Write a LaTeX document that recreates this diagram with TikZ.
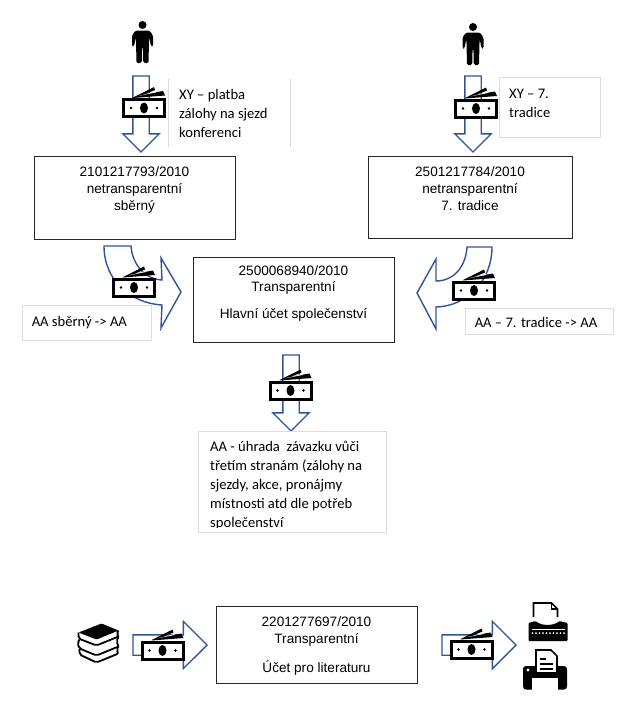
\documentclass[tikz,border=0pt]{standalone}
\usepackage{fontspec}
\setmainfont{Liberation Sans}
\newfontfamily\calibri{Carlito}
\usetikzlibrary{shapes.arrows, positioning}
\definecolor{arrowblue}{HTML}{2F5597}
\definecolor{lightframe}{HTML}{DDDDDD}
\tikzset{
  acct/.style={rectangle, draw=black!85, line width=0.9pt, inner sep=0pt},
  accttxt/.style={inner sep=0pt, align=center, font=\fontsize{13.6}{17}\selectfont},
  note/.style={rectangle, draw=lightframe, line width=0.9pt, inner sep=0pt},
  notetxt/.style={inner sep=0pt, align=left, font=\calibri\fontsize{14.6}{19}\selectfont},
  flow/.style={single arrow, draw=arrowblue, line width=1.4pt, anchor=tail, inner sep=0pt, outer sep=0pt,
    single arrow tip angle=90, text depth=0pt},
  downflow/.style={flow, rotate=-90, minimum height=76pt, text height=15pt, single arrow head extend=10pt},
  sideflow/.style={flow, minimum height=74pt, text height=19pt, single arrow head extend=13.5pt},
  bentflow/.style={draw=arrowblue, line width=1.4pt, line join=miter},
  money/.pic={
    \fill (-11,-10.5) -- (10,-21) -- (11,-18) -- (1,-14) -- (19,-17) -- (21,-12.5) -- (-11,-10) -- cycle;
    \fill[white] (-5,-12.2) -- (12,-16.5) -- (12,-15.5) -- cycle;
    \draw[line width=3pt, fill=white] (-20.5,-8.5) rectangle (20.5,8.5);
    \fill (0,0) ellipse (4pt and 5.5pt);
    \fill (-13,0) circle (1.3pt);
    \fill (13,0) circle (1.3pt);
  },
  person/.pic={
    \fill (0,-18.5) circle (4pt);
    \fill[rounded corners=1.5pt] (-7,-13) -- (7,-13) -- (10.5,-8) -- (10.5,3) -- (8.5,3) -- (6.6,-7)
      -- (6,19.5) -- (0.8,19.5) -- (0.4,3) -- (-0.4,3) -- (-0.8,19.5) -- (-6,19.5) -- (-6.6,-7) -- (-8.5,3)
      -- (-10.5,3) -- (-10.5,-8) -- cycle;
  },
  books/.pic={
    \fill[rounded corners=1pt] (-20,-11) -- (3,-20) -- (20,-13) -- (-2,-4) -- cycle;
    \draw[line width=1.8pt, rounded corners=2pt] (-20,-11) -- (-20,-5) -- (-2,2) -- (20,-7);
    \draw[line width=1.8pt, rounded corners=2pt] (20,-13) -- (18,-10) -- (20,-7);
    \draw[line width=1.8pt, rounded corners=2pt] (-19,-4) -- (-21,0) -- (-19,5) -- (-2,12) -- (20,3);
    \draw[line width=1.8pt, rounded corners=2pt] (20,-7) -- (18,-2) -- (20,3);
    \draw[line width=1.8pt, rounded corners=2pt] (-19,5) -- (-19,11) -- (-2,19) -- (20,10) -- (18,6) -- (20,3);
  },
  typewriter/.pic={
    \draw[line width=1.6pt] (-14,-5) -- (-14,-19) -- (4,-19) -- (10,-13) -- (10,-5);
    \draw[line width=1.2pt] (4,-19) -- (4,-13) -- (10,-13);
    \fill[rounded corners=1pt] (-19,1) -- (-12,-1) .. controls (-6,4) and (6,4) .. (12,-1) -- (20,1)
      -- (20,19) -- (-19,19) -- cycle;
    \foreach \kx in {-15,-11.5,...,17} {
      \fill[white] (\kx,11) circle (1pt);
    }
    \fill[white] (-16,6.5) rectangle (17,7);
  },
  printer/.pic={
    \fill[rounded corners=3pt] (-22,-4) rectangle (22,19.5);
    \draw[line width=1.6pt, fill=white] (-9,3) -- (-9,-20) -- (6,-20) -- (12,-14) -- (12,3) -- cycle;
    \fill (-5,-12) rectangle (1,-10);
    \fill (-5,-7) rectangle (8,-5);
    \fill (-5,-2) rectangle (8,0);
    \fill[white] (-13,8) rectangle (13,20);
    \fill[white] (-17,0) circle (1.6pt);
  },
}
\begin{document}
\begin{tikzpicture}[x=1pt, y=-1pt]
  \useasboundingbox (0,0) rectangle (626,723);
  % top row
  \pic (xy1) at (142.5,43.5) {person};
  \pic (xy2) at (473,45.5) {person};
  \node[downflow] (in1) at (141,76) {};
  \node[downflow] (in2) at (473,76) {};
  \pic (cash1) at (144,108) {money};
  \pic (cash2) at (476,108.5) {money};
  \node[rectangle, minimum width=121pt, minimum height=68pt, inner sep=0pt] (platba) at (229.5,113) {};
  \draw[lightframe, line width=0.9pt] (platba.north west) -- (platba.south west);
  \draw[lightframe, line width=0.9pt] (platba.north east) -- (platba.south east);
  \node[notetxt, anchor=north west] (platbatxt) at (179,89) {XY – platba\\zálohy na sjezd\\konferenci};
  \node[note, minimum width=101pt, minimum height=60pt] (sedma) at (549.5,107) {};
  \node[notetxt, anchor=north west] (sedmatxt) at (509,89) {XY – 7.\\tradice};

  % accounts
  \node[acct, minimum width=201pt, minimum height=83pt] (sberny) at (134.5,197.5) {};
  \node[accttxt, below=11pt of sberny.north] {2101217793/2010\\netransparentní\\sběrný};
  \node[acct, minimum width=204pt, minimum height=82pt] (tradice) at (470,197) {};
  \node[accttxt, below=11pt of tradice.north] {2501217784/2010\\netransparentní\\7. tradice};
  \node[acct, minimum width=201pt, minimum height=85pt] (hlavni) at (293.5,299.5) {};
  \node[accttxt, below=9pt of hlavni.north] (hlavnitxt) {2500068940/2010\\[-1pt]Transparentní};
  \node[accttxt, below=14pt of hlavnitxt] {Hlavní účet společenství};

  % bent arrows
  \draw[bentflow] (104,246) -- (131,246) .. controls (132,262) and (143,279) .. (162,280)
    -- (161,258) -- (181,292) -- (161,328) -- (162,305) .. controls (130,303) and (104,280) .. cycle;
  \draw[bentflow] (492,247) -- (467,247) .. controls (466,265) and (455,281) .. (436,281)
    -- (436,259) -- (417,293) -- (436,329) -- (436,307) .. controls (468,306) and (492,280) .. cycle;
  \pic (cash3) at (134,287.5) {money};
  \pic (cash4) at (474,290.5) {money};
  \node[note, minimum width=129pt, minimum height=35pt] (vlevo) at (86.5,322.5) {};
  \node[notetxt, right=10pt of vlevo.west] {AA sběrný -> AA};
  \node[note, minimum width=148pt, minimum height=26pt] (vpravo) at (539,321) {};
  \node[notetxt, right=10pt of vpravo.west, yshift=-1pt] {AA – 7. tradice -> AA};

  % payment
  \node[downflow] (out) at (291,355) {};
  \pic (cash5) at (290.5,390.5) {money};
  \node[note, minimum width=188pt, minimum height=101pt] (uhrada) at (292,481.5) {};
  \begin{scope}
    \clip (200,433) rectangle (384,527.5);
    \node[notetxt, anchor=north west] (uhradatxt) at (210,440.5)
      {AA - úhrada\ \ závazku vůči\\třetím stranám (zálohy na\\sjezdy, akce, pronájmy\\místnosti atd dle potřeb\\společenství};
  \end{scope}

  % literature
  \pic (stack) at (98.5,643.5) {books};
  \node[sideflow] (lit1) at (133,645) {};
  \pic (cash6) at (162.5,650.5) {money};
  \node[acct, minimum width=201pt, minimum height=77pt] (liter) at (316.5,644.5) {};
  \node[accttxt, below=11pt of liter.north] (litertxt) {2201277697/2010\\Transparentní};
  \node[accttxt, below=14pt of litertxt] {Účet pro literaturu};
  \node[sideflow] (lit2) at (442,645) {};
  \pic (cash7) at (471.5,649.5) {money};
  \pic (tw) at (547.5,622) {typewriter};
  \pic (pr) at (545,670) {printer};
\end{tikzpicture}
\end{document}
